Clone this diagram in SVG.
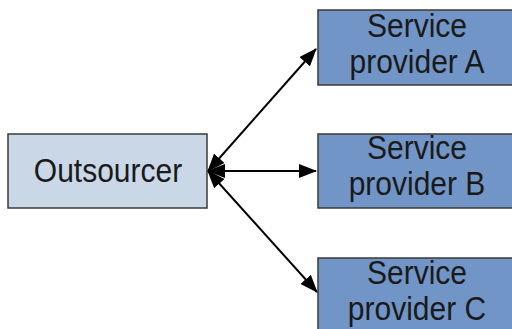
<svg xmlns="http://www.w3.org/2000/svg" width="512" height="329" viewBox="0 0 512 329">
  <style>
    .box { stroke: #3a3a3a; stroke-width: 1.5; }
    .client { fill: #c9d7e7; }
    .provider { fill: #7195c6; }
    .label { font-family: "Liberation Sans", Arial, sans-serif; font-size: 30px; fill: #1a1a1a; text-anchor: middle; }
    .link { stroke: #000; stroke-width: 2; fill: none; marker-start: url(#head); marker-end: url(#head); }
  </style>
  <defs>
    <marker id="head" viewBox="0 0 18 14" refX="17" refY="7" markerWidth="18" markerHeight="14" markerUnits="userSpaceOnUse" orient="auto-start-reverse">
      <path d="M0,0 L18,7 L0,14 Z" fill="#000"/>
    </marker>
  </defs>
  <rect width="512" height="329" fill="#fff"/>

  <g id="connectors">
    <line class="link" x1="208" y1="171" x2="316" y2="49"/>
    <line class="link" x1="208" y1="171" x2="316" y2="171"/>
    <line class="link" x1="208" y1="171" x2="317" y2="292"/>
  </g>

  <g id="outsourcer">
    <rect class="box client" x="8" y="134" width="199" height="74"/>
    <text class="label" transform="translate(108,182) scale(1,1.1)">Outsourcer</text>
  </g>

  <g id="provider-a">
    <rect class="box provider" x="318" y="10" width="199" height="75"/>
    <text class="label" transform="translate(417,37) scale(1,1.1)">Service</text>
    <text class="label" transform="translate(417,73) scale(1,1.1)">provider A</text>
  </g>

  <g id="provider-b">
    <rect class="box provider" x="318" y="134" width="199" height="74"/>
    <text class="label" transform="translate(417,159) scale(1,1.1)">Service</text>
    <text class="label" transform="translate(417,195) scale(1,1.1)">provider B</text>
  </g>

  <g id="provider-c">
    <rect class="box provider" x="318" y="258" width="199" height="80"/>
    <text class="label" transform="translate(417,284) scale(1,1.1)">Service</text>
    <text class="label" transform="translate(417,320) scale(1,1.1)">provider C</text>
  </g>
</svg>
